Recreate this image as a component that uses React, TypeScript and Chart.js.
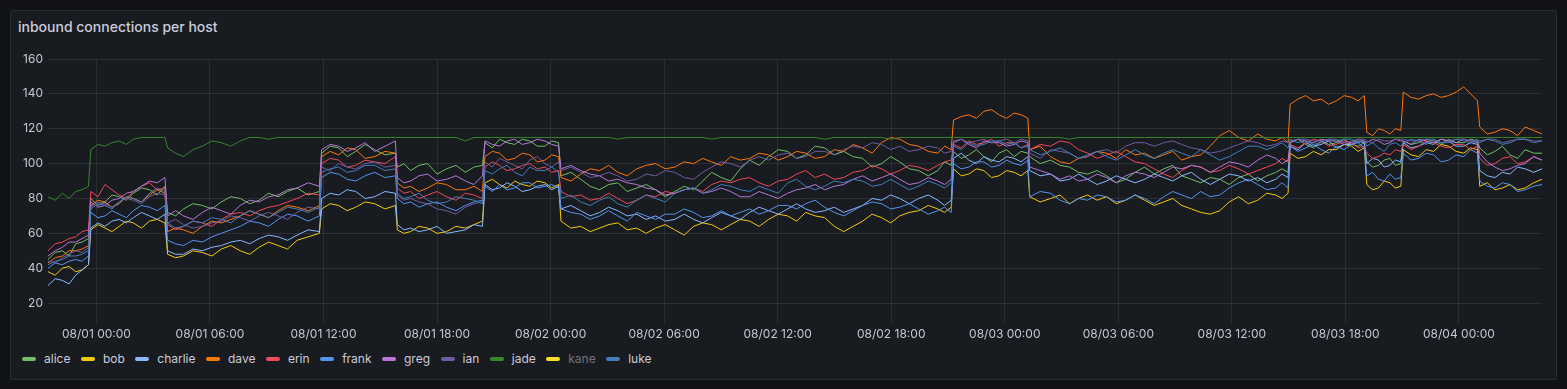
import React, { useEffect, useRef } from "react";
import { Chart, registerables } from "chart.js";
Chart.register(...registerables);

// hours since 08/01 00:00
const times = [
  -2.56, -2.18, -1.8, -1.45, -1.1, -0.76, -0.42,
  -0.3, 0.08, 0.45, 0.82, 1.2, 1.58, 1.95, 2.38, 2.8, 3.21, 3.62,
  3.76, 4.18, 4.6, 5.1, 5.6, 6.1, 6.6, 7.1, 7.6, 8.1, 8.6, 9.1, 9.6, 10.1, 10.6, 11.19, 11.78,
  11.9, 12.35, 12.8, 13.25, 13.7, 14.2, 14.7, 15.25, 15.8,
  15.9, 16.25, 16.6, 17.05, 17.5, 18.0, 18.5, 19.0, 19.5, 19.95, 20.4,
  20.53, 20.92, 21.3, 21.7, 22.1, 22.5, 22.9, 23.3, 23.7, 24.06, 24.42,
  24.55, 25.07, 25.59, 26.09, 26.59, 27.07, 27.55, 28.05, 28.55, 29.05, 29.55, 30.06, 30.56, 31.06, 31.56, 32.04, 32.51, 33.02, 33.52, 34.02, 34.52, 35.02, 35.52, 36.03, 36.53, 37.0, 37.48, 37.98, 38.48, 38.99, 39.49, 39.99, 40.49, 40.99, 41.49, 41.97, 42.45, 42.95, 43.45, 43.96, 44.46, 44.82, 45.17,
  45.29, 45.7, 46.1, 46.5, 46.9, 47.3, 47.7, 48.1, 48.5, 48.86, 49.22,
  49.32, 49.87, 50.42, 50.92, 51.42, 51.9, 52.38, 52.88, 53.38, 53.89, 54.39, 54.89, 55.39, 55.9, 56.4, 56.88, 57.35, 57.86, 58.36, 58.86, 59.36, 59.86, 60.36, 60.87, 61.37, 61.85, 62.32, 62.65, 62.97,
  63.08, 63.49, 63.9, 64.31, 64.72, 65.12, 65.52, 65.93, 66.33, 66.67, 67.0,
  67.13, 67.44, 67.75, 68.05, 68.35, 68.64, 68.93,
  69.06, 69.47, 69.87, 70.27, 70.66, 71.06, 71.45, 71.85, 72.25, 72.62, 72.98,
  73.1, 73.5, 73.9, 74.3, 74.7, 75.1, 75.5, 75.95, 76.39,
];

const alice = [
  45, 49, 50, 47, 54, 55, 57,
  80, 76, 78, 82, 81, 79, 83, 86, 85, 82, 87,
  72, 70, 74, 77, 76, 74, 78, 81, 80, 77, 79, 83, 81, 84, 86, 82, 84,
  106, 110, 109, 104, 107, 111, 108, 105, 106,
  98, 100, 96, 99, 100, 94, 97, 99, 95, 98, 99,
  112, 109, 114, 112, 111, 114, 113, 110, 110, 113, 112,
  93, 95, 91, 87, 85, 88, 89, 84, 86, 88, 85, 81, 84, 87, 85, 90, 95, 92, 90, 97, 102, 99, 104, 108, 107, 103, 105, 110, 109, 105, 107, 104, 103, 98, 100, 104, 101, 97, 96, 93, 96, 101, 99,
  107, 103, 105, 108, 104, 101, 106, 108, 104, 107, 106,
  104, 100, 102, 99, 98, 95, 94, 96, 93, 89, 91, 95, 98, 94, 97, 99, 93, 91, 89, 92, 91, 88, 92, 94, 90, 93, 95, 97, 95,
  112, 114, 111, 109, 113, 111, 112, 114, 111, 110, 112,
  101, 98, 99, 102, 103, 99, 100,
  113, 111, 112, 114, 113, 111, 114, 112, 112, 114, 113,
  109, 105, 107, 110, 105, 103, 108, 106, 106,
];
const bob = [
  38, 36, 40, 41, 38, 39, 42,
  62, 65, 63, 61, 64, 67, 66, 63, 67, 68, 66,
  48, 46, 47, 50, 49, 47, 51, 53, 50, 48, 52, 55, 53, 51, 56, 58, 60,
  74, 77, 76, 73, 75, 78, 77, 74, 76,
  62, 60, 61, 64, 63, 60, 61, 64, 63, 65, 67,
  89, 91, 88, 86, 90, 88, 87, 90, 89, 86, 88,
  67, 63, 64, 61, 63, 65, 66, 62, 63, 60, 63, 65, 62, 59, 64, 66, 65, 62, 65, 68, 67, 64, 68, 71, 70, 67, 72, 70, 69, 64, 61, 64, 67, 71, 69, 66, 70, 72, 73, 76, 74, 72, 75,
  97, 93, 94, 97, 96, 92, 93, 96, 95, 93, 96,
  81, 78, 80, 82, 77, 80, 82, 79, 81, 77, 79, 82, 79, 76, 78, 80, 76, 74, 72, 71, 73, 78, 81, 77, 79, 83, 82, 80, 83,
  106, 103, 104, 107, 105, 108, 108, 111, 110, 107, 109,
  88, 85, 86, 90, 89, 86, 87,
  108, 105, 104, 108, 107, 111, 110, 107, 106, 109, 108,
  87, 89, 85, 86, 88, 85, 86, 89, 91,
];
const charlie = [
  30, 34, 33, 31, 36, 39, 42,
  63, 66, 64, 67, 68, 66, 69, 72, 70, 68, 71,
  50, 48, 48, 51, 50, 52, 53, 55, 56, 54, 57, 59, 58, 56, 59, 62, 61,
  80, 83, 82, 85, 84, 80, 81, 84, 83,
  65, 62, 63, 61, 62, 64, 60, 61, 62, 65, 64,
  88, 85, 86, 89, 87, 84, 85, 87, 88, 85, 87,
  74, 76, 73, 70, 72, 75, 73, 70, 71, 68, 70, 67, 68, 71, 68, 66, 69, 72, 70, 68, 72, 75, 73, 71, 74, 77, 74, 72, 73, 75, 72, 74, 76, 80, 79, 82, 80, 77, 80, 82, 79, 76, 79,
  103, 106, 102, 100, 104, 102, 101, 104, 103, 101, 104,
  96, 93, 94, 90, 91, 94, 91, 88, 90, 93, 91, 89, 91, 94, 92, 90, 93, 95, 91, 88, 91, 94, 93, 90, 92, 89, 91, 94, 92,
  110, 108, 112, 110, 111, 113, 109, 111, 111, 113, 112,
  100, 103, 102, 98, 99, 102, 101,
  112, 109, 110, 112, 111, 114, 113, 110, 110, 112, 111,
  96, 93, 92, 95, 94, 98, 97, 95, 97,
];
const dave = [
  43, 46, 47, 50, 50, 51, 53,
  76, 79, 78, 75, 77, 81, 80, 78, 82, 85, 83,
  61, 63, 62, 60, 64, 67, 66, 68, 70, 73, 71, 69, 73, 76, 75, 73, 76,
  104, 107, 105, 109, 108, 103, 104, 107, 106,
  89, 86, 87, 84, 86, 89, 88, 85, 85, 87, 84,
  104, 107, 106, 102, 103, 106, 105, 101, 102, 105, 104,
  92, 90, 94, 97, 96, 99, 95, 93, 97, 99, 100, 97, 98, 101, 100, 103, 101, 99, 104, 102, 103, 106, 105, 102, 104, 107, 106, 103, 104, 108, 107, 111, 109, 106, 112, 115, 114, 111, 110, 107, 106, 110, 108,
  125, 127, 128, 126, 130, 131, 128, 126, 129, 128, 126,
  108, 110, 104, 101, 100, 103, 104, 107, 106, 103, 108, 105, 106, 103, 105, 107, 102, 104, 105, 110, 116, 119, 115, 113, 117, 114, 113, 115, 112,
  134, 137, 139, 136, 137, 134, 136, 139, 138, 136, 139,
  118, 116, 120, 119, 117, 120, 119,
  141, 138, 137, 139, 140, 138, 139, 141, 144, 140, 136,
  121, 117, 118, 120, 119, 116, 121, 119, 117,
];
const erin = [
  50, 54, 55, 57, 58, 61, 62,
  84, 81, 88, 85, 82, 80, 84, 87, 89, 85, 86,
  65, 62, 64, 67, 66, 64, 68, 71, 72, 70, 73, 75, 76, 78, 80, 83, 82,
  100, 103, 102, 98, 99, 102, 101, 100, 104,
  86, 83, 84, 80, 82, 84, 81, 79, 83, 82, 80,
  98, 101, 99, 96, 97, 99, 100, 97, 98, 95, 96,
  84, 81, 82, 79, 80, 83, 80, 77, 79, 82, 81, 84, 83, 85, 86, 84, 88, 90, 89, 91, 92, 89, 87, 90, 91, 94, 96, 92, 94, 91, 92, 95, 96, 99, 97, 94, 96, 99, 98, 96, 99, 101, 102,
  111, 109, 113, 111, 112, 114, 110, 112, 112, 109, 111,
  108, 111, 110, 113, 112, 108, 106, 103, 105, 107, 104, 101, 100, 97, 94, 92, 96, 99, 98, 95, 96, 99, 97, 94, 96, 98, 100, 103, 101,
  111, 109, 112, 114, 113, 110, 111, 113, 112, 109, 110,
  106, 103, 104, 106, 105, 108, 107,
  111, 108, 110, 113, 112, 110, 109, 111, 111, 108, 110,
  103, 99, 100, 103, 104, 100, 101, 104, 102,
];
const frank = [
  40, 43, 42, 44, 45, 44, 47,
  72, 69, 70, 73, 71, 69, 73, 76, 75, 73, 76,
  56, 54, 53, 56, 55, 58, 60, 62, 64, 67, 66, 64, 68, 71, 70, 67, 70,
  92, 95, 94, 91, 90, 93, 95, 92, 93,
  80, 77, 78, 75, 77, 78, 75, 73, 76, 78, 79,
  87, 84, 88, 85, 86, 89, 89, 86, 87, 88, 86,
  74, 72, 71, 68, 70, 73, 70, 67, 72, 70, 68, 71, 71, 74, 72, 69, 70, 73, 70, 72, 74, 71, 73, 76, 76, 74, 77, 79, 75, 72, 70, 73, 76, 78, 77, 74, 75, 77, 74, 71, 73, 75, 72,
  100, 97, 98, 101, 101, 98, 99, 102, 100, 99, 102,
  81, 84, 83, 79, 77, 80, 79, 82, 81, 78, 79, 82, 80, 77, 81, 84, 82, 80, 84, 81, 82, 86, 89, 91, 88, 85, 86, 89, 86,
  110, 107, 109, 111, 108, 106, 110, 108, 111, 112, 109,
  93, 95, 91, 90, 94, 91, 92,
  106, 102, 103, 106, 105, 101, 102, 105, 104, 108, 106,
  90, 87, 86, 89, 88, 84, 85, 87, 88,
];
const greg = [
  47, 50, 52, 55, 55, 57, 59,
  78, 75, 76, 79, 80, 83, 84, 87, 90, 89, 92,
  70, 73, 70, 68, 72, 75, 73, 71, 76, 79, 78, 81, 82, 85, 86, 89, 87,
  108, 111, 110, 107, 109, 112, 107, 110, 113,
  92, 89, 90, 93, 94, 90, 91, 93, 90, 88, 93,
  113, 111, 110, 113, 114, 111, 112, 114, 113, 111, 110,
  97, 99, 96, 94, 93, 90, 91, 89, 88, 86, 85, 82, 83, 85, 86, 83, 84, 86, 84, 81, 81, 84, 82, 80, 83, 85, 86, 88, 85, 87, 88, 91, 93, 90, 92, 94, 91, 88, 89, 92, 90, 88, 91,
  112, 114, 111, 109, 113, 112, 112, 110, 111, 113, 112,
  98, 96, 94, 91, 93, 90, 91, 94, 92, 89, 93, 95, 94, 92, 95, 98, 97, 99, 98, 95, 98, 101, 100, 98, 102, 105, 103, 100, 102,
  112, 114, 113, 112, 114, 113, 113, 111, 112, 114, 113,
  112, 114, 113, 111, 112, 114, 113,
  113, 111, 114, 113, 112, 114, 113, 112, 114, 113, 112,
  106, 101, 98, 96, 97, 99, 100, 104, 102,
];
const ian = [
  44, 43, 46, 48, 50, 49, 52,
  75, 78, 77, 75, 78, 80, 79, 77, 81, 83, 82,
  66, 68, 65, 63, 64, 66, 67, 70, 69, 67, 70, 72, 70, 68, 72, 75, 74,
  98, 96, 100, 98, 97, 100, 101, 98, 99,
  82, 79, 80, 78, 77, 74, 73, 71, 75, 77, 78,
  101, 98, 103, 101, 99, 97, 102, 104, 100, 98, 101,
  96, 98, 95, 92, 93, 95, 93, 90, 91, 94, 93, 96, 95, 92, 91, 95, 98, 101, 100, 98, 102, 104, 102, 105, 106, 103, 104, 107, 107, 105, 108, 110, 109, 112, 111, 108, 110, 107, 108, 110, 109, 106, 107,
  113, 114, 112, 113, 114, 112, 113, 114, 112, 114, 113,
  106, 103, 108, 107, 106, 103, 104, 107, 108, 106, 110, 112, 112, 110, 112, 113, 111, 109, 108, 106, 107, 109, 111, 113, 112, 110, 111, 113, 112,
  113, 114, 114, 113, 113, 114, 114, 112, 113, 114, 114,
  113, 112, 114, 113, 113, 114, 114,
  114, 113, 113, 114, 114, 112, 113, 114, 114, 113, 113,
  113, 114, 114, 112, 113, 114, 114, 113, 113,
];
const jade = [
  81, 79, 83, 80, 84, 85, 87,
  108, 111, 110, 112, 113, 111, 114, 115, 115, 115, 115,
  109, 106, 104, 108, 110, 113, 112, 110, 113, 115, 115, 114, 115, 115, 115, 115, 115,
  115, 115, 115, 115, 115, 115, 115, 115, 115,
  115, 115, 115, 115, 115, 115, 115, 115, 113, 115, 115,
  115, 115, 115, 115, 115, 115, 115, 115, 115, 115, 115,
  115, 115, 115, 115, 115, 115, 114, 115, 115, 115, 115, 115, 115, 115, 115, 115, 114, 115, 115, 115, 115, 115, 115, 115, 115, 115, 115, 115, 114, 115, 115, 115, 115, 115, 115, 114, 115, 115, 115, 115, 115, 115, 115,
  115, 115, 115, 115, 115, 115, 115, 115, 115, 115, 115,
  115, 115, 115, 115, 114, 115, 115, 115, 115, 115, 115, 115, 115, 115, 115, 115, 115, 115, 115, 115, 115, 115, 115, 115, 115, 115, 115, 115, 115,
  115, 115, 115, 115, 115, 115, 115, 115, 115, 115, 115,
  115, 115, 115, 115, 115, 115, 115,
  115, 115, 115, 115, 115, 115, 115, 115, 115, 115, 115,
  115, 115, 115, 115, 115, 115, 115, 115, 115,
];
const kane: number[] = []; // hidden series (greyed out in the legend)
const luke = [
  42, 44, 45, 47, 47, 48, 50,
  74, 77, 76, 74, 78, 81, 80, 78, 83, 86, 84,
  66, 63, 64, 67, 66, 69, 68, 66, 70, 73, 71, 69, 72, 75, 74, 72, 75,
  95, 97, 98, 95, 96, 99, 99, 96, 97,
  83, 80, 81, 83, 79, 77, 78, 81, 80, 79, 77,
  96, 94, 97, 99, 95, 93, 98, 96, 96, 98, 95,
  80, 82, 78, 76, 79, 81, 77, 75, 79, 82, 80, 78, 83, 85, 86, 83, 85, 88, 87, 85, 84, 87, 85, 83, 89, 91, 87, 85, 87, 90, 89, 91, 90, 87, 88, 91, 88, 85, 87, 90, 88, 86, 89,
  110, 108, 112, 110, 111, 113, 113, 111, 112, 109, 110,
  108, 105, 107, 109, 106, 103, 105, 107, 104, 102, 105, 108, 105, 103, 106, 108, 106, 104, 108, 105, 102, 104, 107, 110, 110, 108, 110, 112, 109,
  114, 112, 113, 111, 112, 114, 113, 114, 114, 112, 113,
  110, 112, 109, 107, 111, 112, 110,
  112, 114, 113, 111, 114, 112, 112, 114, 113, 112, 114,
  112, 114, 113, 111, 112, 114, 114, 112, 113,
];

const seriesNames = ["alice", "bob", "charlie", "dave", "erin", "frank", "greg", "ian", "jade", "kane", "luke"];
const seriesColors = ["#73BF69", "#F2CC0C", "#8AB8FF", "#FF780A", "#F2495C", "#5794F2", "#B877D9", "#705DA0", "#37872D", "#FADE2A", "#447EBC"];
const hiddenSeries = ["kane"];
const xTickHours = [0, 6, 12, 18, 24, 30, 36, 42, 48, 54, 60, 66, 72];
const yTickValues = [20, 40, 60, 80, 100, 120, 140, 160];

const FONT = "Inter, 'Noto Sans', sans-serif";
const TEXT = "#c7c7d1";
const GRID = "rgba(240,250,255,0.09)";

function fmtHour(v: number) {
  const day = 1 + Math.floor(v / 24);
  const hh = ((v % 24) + 24) % 24;
  return `08/0${day} ${String(hh).padStart(2, "0")}:00`;
}

export default function App() {
  const ref = useRef<HTMLCanvasElement>(null);
  useEffect(() => {
    const series = [alice, bob, charlie, dave, erin, frank, greg, ian, jade, kane, luke];
    const datasets = seriesNames.map((name, i) => ({
      label: name,
      data: series[i].map((v, j) => ({ x: times[j], y: v })),
      borderColor: seriesColors[i],
      backgroundColor: seriesColors[i],
      borderWidth: 1,
      pointRadius: 0,
      pointHoverRadius: 0,
      tension: 0,
      fill: false,
      hidden: hiddenSeries.includes(name),
      order: seriesNames.length - i,
    }));
    const chart = new Chart(ref.current as HTMLCanvasElement, {
      type: "line",
      data: { datasets } as any,
      options: {
        animation: false,
        responsive: false,
        events: [],
        layout: { padding: { top: 19, right: 15, bottom: 0, left: 0 } },
        plugins: { legend: { display: false }, tooltip: { enabled: false } },
        scales: {
          x: {
            type: "linear",
            min: -2.56,
            max: 76.39,
            afterBuildTicks: (s: any) => {
              s.ticks = xTickHours.map((v) => ({ value: v }));
            },
            afterFit: (s: any) => {
              s.height = 22;
            },
            ticks: {
              color: TEXT,
              font: { family: FONT, size: 12 },
              padding: 4,
              maxRotation: 0,
              autoSkip: false,
              callback: (v: any) => fmtHour(Number(v)),
            },
            grid: { color: GRID, drawTicks: false },
            border: { display: false },
          },
          y: {
            type: "linear",
            min: 8.57,
            max: 160,
            afterBuildTicks: (s: any) => {
              s.ticks = yTickValues.map((v) => ({ value: v }));
            },
            afterFit: (s: any) => {
              s.width = 38;
            },
            ticks: {
              color: TEXT,
              font: { family: FONT, size: 12 },
              padding: 5,
              callback: (v: any) => String(v),
            },
            grid: { color: GRID, drawTicks: false },
            border: { display: false },
          },
        },
      } as any,
    });
    return () => chart.destroy();
  }, []);

  return (
    <div style={{ position: "fixed", inset: 0, background: "#111217", fontFamily: FONT }}>
      <div
        style={{
          position: "absolute",
          left: 10,
          top: 10,
          width: 1547,
          height: 370,
          boxSizing: "border-box",
          background: "#181b1f",
          border: "1px solid #2a2d33",
          borderRadius: 2,
        }}
      />
      <div
        style={{
          position: "absolute",
          left: 18,
          top: 18,
          height: 18,
          lineHeight: "18px",
          fontSize: 14,
          fontWeight: 500,
          color: "#ccccdc",
          whiteSpace: "nowrap",
        }}
      >
        inbound connections per host
      </div>
      <canvas
        ref={ref}
        width={1547}
        height={305}
        style={{ position: "absolute", left: 10, top: 40, width: 1547, height: 305 }}
      />
      <div
        style={{
          position: "absolute",
          left: 22,
          top: 351,
          height: 16,
          display: "flex",
          alignItems: "center",
          fontSize: 12,
          lineHeight: "16px",
          whiteSpace: "nowrap",
        }}
      >
        {seriesNames.map((name, i) => (
          <div key={name} style={{ display: "flex", alignItems: "center", marginRight: 10.5 }}>
            <span
              style={{
                display: "inline-block",
                width: 14,
                height: 4,
                borderRadius: 2,
                background: seriesColors[i],
                marginRight: 8,
              }}
            />
            <span style={{ color: hiddenSeries.includes(name) ? "rgba(204,204,220,0.5)" : "#ccccdc" }}>{name}</span>
          </div>
        ))}
      </div>
    </div>
  );
}
